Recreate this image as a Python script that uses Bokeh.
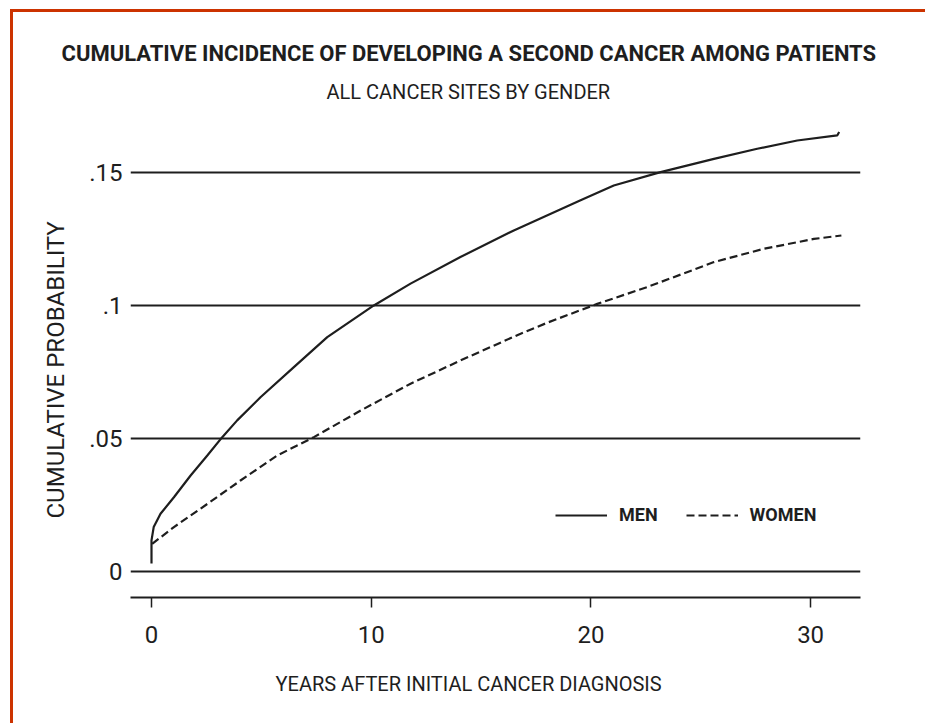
from bokeh.plotting import figure
from bokeh.models import Range1d, FixedTicker, Title, Legend, LegendItem, CustomJSTickFormatter
from bokeh.embed import file_html
from bokeh.resources import INLINE

# ---- data ----
years_men = [0.0, 0.0, 0.1, 0.41, 1.02, 1.78, 2.54, 3.22, 3.9, 4.96, 6.48, 8.0,
             10.12, 11.79, 14.06, 16.49, 19.53, 21.04, 23.17, 25.6, 27.57,
             29.39, 31.21, 31.3]
prob_men = [0.003, 0.0117, 0.0167, 0.0217, 0.0279, 0.0361, 0.0436, 0.0505,
            0.0568, 0.0655, 0.0768, 0.0881, 0.1, 0.1082, 0.1182, 0.1282,
            0.1395, 0.1451, 0.1501, 0.1551, 0.1589, 0.162, 0.1639, 0.1652]

years_women = [0.03, 1.02, 2.54, 4.05, 5.72, 7.39, 9.52, 11.79, 14.06, 16.8,
               18.01, 20.29, 22.56, 25.6, 27.87, 30.15, 31.4]
prob_women = [0.0104, 0.0167, 0.0254, 0.0342, 0.0436, 0.0505, 0.0605, 0.0706,
              0.0793, 0.0894, 0.0935, 0.1006, 0.1069, 0.1163, 0.1213, 0.125,
              0.1263]

x_ticks = [0, 10, 20, 30]
y_ticks = [0, 0.05, 0.1, 0.15]

title_text = "CUMULATIVE INCIDENCE OF DEVELOPING A SECOND CANCER AMONG PATIENTS"
subtitle_text = "ALL CANCER SITES BY GENDER"
x_label = "YEARS AFTER INITIAL CANCER DIAGNOSIS"
y_label = "CUMULATIVE PROBABILITY"
series_names = ["MEN", "WOMEN"]

FONT = "Roboto"
INK = "#1e1e1e"

p = figure(width=915, height=714, output_backend="svg", toolbar_location=None,
           x_range=Range1d(-0.956, 32.27), y_range=Range1d(-0.00977, 0.1714),
           min_border_left=117, min_border_right=68, min_border_top=103,
           min_border_bottom=129)
p.styles = {"border-top": "3px solid #cc3300", "border-left": "3px solid #cc3300",
            "margin-left": "10px", "margin-top": "9px"}
p.outline_line_color = None
p.background_fill_color = "white"
p.border_fill_color = "white"

# titles (left-aligned with offsets, relative to the plot frame)
p.add_layout(Title(text=subtitle_text, align="left", offset=196, text_font=FONT,
                   text_font_size="20px", text_font_style="normal",
                   text_color=INK, standoff=24), "above")
p.add_layout(Title(text=title_text, align="left", offset=-69, text_font=FONT,
                   text_font_size="22px", text_font_style="bold",
                   text_color=INK, standoff=0), "above")

# grid
p.xgrid.grid_line_color = None
p.ygrid.ticker = FixedTicker(ticks=y_ticks)
p.ygrid.grid_line_color = INK
p.ygrid.grid_line_width = 2

# x axis
xa = p.xaxis[0]
xa.ticker = FixedTicker(ticks=x_ticks)
xa.axis_line_width = 2
xa.axis_line_color = INK
xa.major_tick_in = 0
xa.major_tick_out = 10
xa.major_tick_line_width = 1.5
xa.major_tick_line_color = INK
xa.minor_tick_line_color = None
xa.major_label_text_font = FONT
xa.major_label_text_font_size = "24px"
xa.major_label_text_color = INK
xa.major_label_standoff = 18
p.add_layout(Title(text=x_label, align="left", offset=145, text_font=FONT,
                   text_font_size="20px", text_font_style="normal",
                   text_color=INK, standoff=48), "below")

# y axis
ya = p.yaxis[0]
ya.ticker = FixedTicker(ticks=y_ticks)
ya.axis_line_color = None
ya.major_tick_line_color = None
ya.minor_tick_line_color = None
ya.major_label_text_font = FONT
ya.major_label_text_font_size = "24px"
ya.major_label_text_color = INK
ya.major_label_standoff = 2
ya.formatter = CustomJSTickFormatter(code="""
    if (Math.abs(tick) < 1e-9) { return '0'; }
    return tick.toFixed(2).replace(/^0/, '').replace(/0$/, '');
""")
p.add_layout(Title(text=y_label, align="left", offset=79, text_font=FONT,
                   text_font_size="24px", text_font_style="normal",
                   text_color=INK, standoff=34), "left")

# series
r_men = p.line(years_men, prob_men, line_color=INK, line_width=2.2)
r_women = p.line(years_women, prob_women, line_color=INK, line_width=2.2,
                 line_dash="8 4")

legend = Legend(items=[LegendItem(label=series_names[0], renderers=[r_men]),
                       LegendItem(label=series_names[1], renderers=[r_women])],
                orientation="horizontal", location=(425, 72),
                border_line_color=None, background_fill_alpha=0,
                label_text_font=FONT, label_text_font_size="18px",
                label_text_font_style="bold", label_text_color=INK,
                glyph_width=52, glyph_height=20, label_standoff=12,
                spacing=28, padding=0, margin=0)
p.add_layout(legend, "center")

open("out.html", "w").write(file_html(p, INLINE))
